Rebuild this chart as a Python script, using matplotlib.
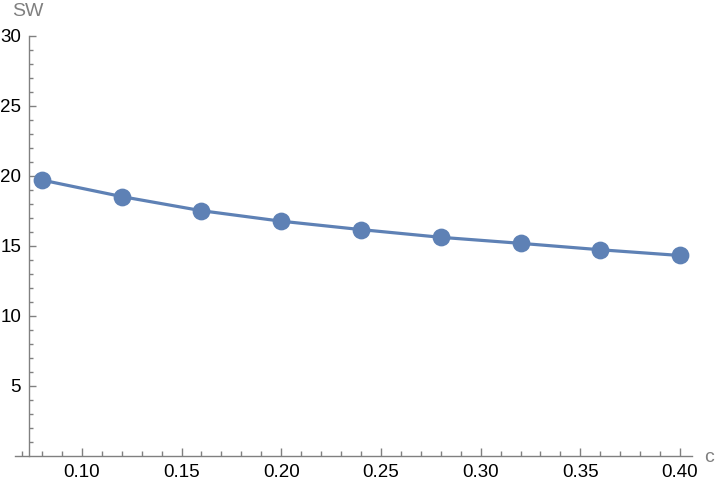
import matplotlib.pyplot as plt
import numpy as np
from matplotlib.ticker import MultipleLocator, FixedLocator

# Data
c_vals = [0.08, 0.12, 0.16, 0.20, 0.24, 0.28, 0.32, 0.36, 0.40]
sw_vals = [19.69, 18.51, 17.50, 16.75, 16.15, 15.60, 15.17, 14.71, 14.30]

x_ticks = [0.10, 0.15, 0.20, 0.25, 0.30, 0.35, 0.40]
x_labels = ["0.10", "0.15", "0.20", "0.25", "0.30", "0.35", "0.40"]
y_ticks = [5, 10, 15, 20, 25, 30]

plt.rcParams['font.family'] = ['Liberation Sans', 'DejaVu Sans']

line_col = "#5E81B5"
axis_col = "#808080"

fig = plt.figure(figsize=(7.2, 4.9), dpi=100)
ax = fig.add_axes([15 / 720, 1 - 455.7 / 490, 677 / 720, 420 / 490])

ax.plot(c_vals, sw_vals, color=line_col, lw=2.3, marker="o", ms=12.8,
        markeredgewidth=0, zorder=3, clip_on=False)

ax.set_xlim(0.0665, 0.406)
ax.set_ylim(0, 30)

# Mathematica-style axes: y axis crossing at left of the data, x axis at y=0
for s in ["top", "right"]:
    ax.spines[s].set_visible(False)
ax.spines["left"].set_position(("data", 0.0737))
ax.spines["bottom"].set_position(("data", 0))
for s in ["left", "bottom"]:
    ax.spines[s].set_color(axis_col)
    ax.spines[s].set_linewidth(1.0)

ax.xaxis.set_major_locator(FixedLocator(x_ticks))
ax.set_xticklabels(x_labels)
ax.xaxis.set_minor_locator(MultipleLocator(0.01))
ax.yaxis.set_major_locator(FixedLocator(y_ticks))
ax.yaxis.set_minor_locator(FixedLocator([v for v in range(1, 30) if v % 5]))

ax.tick_params(axis="x", which="major", direction="in", length=6, width=1,
               color=axis_col, labelsize=13.5, pad=6, labelcolor="black")
ax.tick_params(axis="x", which="minor", direction="in", length=3.5, width=1,
               color=axis_col)
ax.tick_params(axis="y", which="major", direction="in", length=5, width=1,
               color=axis_col, labelsize=13.5, pad=6, labelcolor="black")
ax.tick_params(axis="y", which="minor", direction="in", length=3, width=1,
               color=axis_col)

fig.text(12 / 720, 1 - 12 / 490, "SW", color=axis_col, fontsize=14,
         ha="left", va="center")
fig.text(704 / 720, 1 - 457 / 490, "c", color=axis_col, fontsize=14,
         ha="left", va="center")

fig.savefig("out.png", dpi=100)
